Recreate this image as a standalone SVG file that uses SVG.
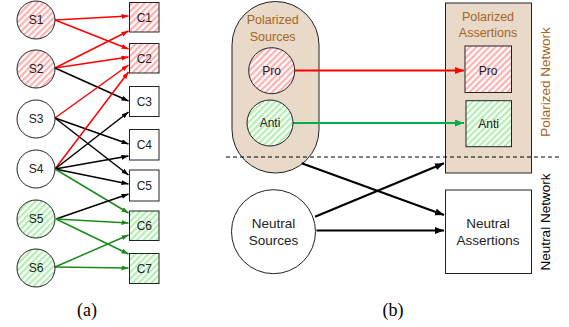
<svg xmlns="http://www.w3.org/2000/svg" width="569" height="327" viewBox="0 0 569 327">
<style>
text{font-family:"Liberation Sans",Arial,sans-serif;fill:#222;text-anchor:middle}
.lab{font-size:12px}
.big{font-size:13.5px}
.brown{fill:#a4651f;font-size:12.5px}
.cap{font-family:"Liberation Serif","Times New Roman",serif;font-size:18px;fill:#000}
.node{stroke:#222;stroke-width:1}
.ea{fill:none;stroke-width:1.5}
.eb{fill:none;stroke-width:2.2}
.r{stroke:#ff0000}
.k{stroke:#000}
.g{stroke:#1c8a1c}
.gb{stroke:#00b050}
</style>
<defs>
<pattern id="hr" patternUnits="userSpaceOnUse" width="4.5" height="4.5" patternTransform="rotate(45)">
<rect width="4.5" height="4.5" fill="#fff"/><rect width="2.2" height="4.5" fill="#ffb0b0"/>
</pattern>
<pattern id="hg" patternUnits="userSpaceOnUse" width="4.5" height="4.5" patternTransform="rotate(45)">
<rect width="4.5" height="4.5" fill="#fff"/><rect width="2.2" height="4.5" fill="#b2efb2"/>
</pattern>
<marker id="ar" markerUnits="userSpaceOnUse" markerWidth="8" markerHeight="6" refX="7" refY="2.5" orient="auto"><path d="M0,0 L7,2.5 L0,5 z" fill="#ff0000"/></marker>
<marker id="ak" markerUnits="userSpaceOnUse" markerWidth="8" markerHeight="6" refX="7" refY="2.5" orient="auto"><path d="M0,0 L7,2.5 L0,5 z" fill="#000"/></marker>
<marker id="ag" markerUnits="userSpaceOnUse" markerWidth="8" markerHeight="6" refX="7" refY="2.5" orient="auto"><path d="M0,0 L7,2.5 L0,5 z" fill="#1c8a1c"/></marker>
<marker id="br" markerUnits="userSpaceOnUse" markerWidth="10" markerHeight="8" refX="9" refY="3.5" orient="auto"><path d="M0,0 L9,3.5 L0,7 z" fill="#ff0000"/></marker>
<marker id="bk" markerUnits="userSpaceOnUse" markerWidth="10" markerHeight="8" refX="9" refY="3.5" orient="auto"><path d="M0,0 L9,3.5 L0,7 z" fill="#000"/></marker>
<marker id="bg" markerUnits="userSpaceOnUse" markerWidth="10" markerHeight="8" refX="9" refY="3.5" orient="auto"><path d="M0,0 L9,3.5 L0,7 z" fill="#00b050"/></marker>
</defs>
<rect width="569" height="327" fill="#fff"/>

<g id="polarized-sources">
<rect class="node" x="232" y="1.5" width="87" height="171.5" rx="43.5" ry="43.5" fill="#e8d9c8"/>
<text class="brown" x="272.7" y="24">Polarized</text>
<text class="brown" x="272.7" y="41">Sources</text>
</g>
<g id="polarized-assertions">
<rect class="node" x="445.5" y="3" width="86" height="170" fill="#e8d9c8"/>
<text class="brown" x="488" y="21">Polarized</text>
<text class="brown" x="488" y="37">Assertions</text>
</g>

<g id="connectors">
<line class="ea r" x1="55" y1="20" x2="128.5" y2="16" marker-end="url(#ar)"/>
<line class="ea r" x1="55" y1="20" x2="128.5" y2="49" marker-end="url(#ar)"/>
<line class="ea r" x1="55" y1="68" x2="128.5" y2="31" marker-end="url(#ar)"/>
<line class="ea r" x1="55" y1="68" x2="128.5" y2="57" marker-end="url(#ar)"/>
<line class="ea k" x1="55" y1="68" x2="128.5" y2="101" marker-end="url(#ak)"/>
<line class="ea r" x1="55" y1="118" x2="128.5" y2="65" marker-end="url(#ar)"/>
<line class="ea k" x1="55" y1="118" x2="128.5" y2="144" marker-end="url(#ak)"/>
<line class="ea k" x1="55" y1="118" x2="128.5" y2="175" marker-end="url(#ak)"/>
<line class="ea r" x1="55" y1="169" x2="128.5" y2="72" marker-end="url(#ar)"/>
<line class="ea k" x1="55" y1="169" x2="128.5" y2="112" marker-end="url(#ak)"/>
<line class="ea k" x1="55" y1="169" x2="128.5" y2="156" marker-end="url(#ak)"/>
<line class="ea k" x1="55" y1="169" x2="128.5" y2="184" marker-end="url(#ak)"/>
<line class="ea g" x1="55" y1="169" x2="128.5" y2="213" marker-end="url(#ag)"/>
<line class="ea k" x1="56" y1="219" x2="128.5" y2="194" marker-end="url(#ak)"/>
<line class="ea g" x1="56" y1="219" x2="128.5" y2="223" marker-end="url(#ag)"/>
<line class="ea g" x1="56" y1="219" x2="128.5" y2="254" marker-end="url(#ag)"/>
<line class="ea g" x1="55" y1="267" x2="128.5" y2="235" marker-end="url(#ag)"/>
<line class="ea g" x1="55" y1="267" x2="128.5" y2="268" marker-end="url(#ag)"/>
<line class="eb r" x1="295" y1="70.5" x2="464" y2="70.5" marker-end="url(#br)"/>
<line class="eb gb" x1="293" y1="123" x2="464" y2="123" marker-end="url(#bg)"/>
<line class="eb k" x1="301.7" y1="163.3" x2="444" y2="215" marker-end="url(#bk)"/>
<line class="eb k" x1="315" y1="216.7" x2="444" y2="163.3" marker-end="url(#bk)"/>
<line class="eb k" x1="316.5" y1="230.5" x2="444" y2="230.5" marker-end="url(#bk)"/>
<line x1="226" y1="157" x2="562" y2="157" stroke="#000" stroke-width="1" stroke-dasharray="4,3"/>
</g>

<g id="S1"><circle class="node" cx="36" cy="20" r="19" fill="url(#hr)"/><text class="lab" x="36" y="24.2">S1</text></g>
<g id="S2"><circle class="node" cx="36" cy="69" r="19" fill="url(#hr)"/><text class="lab" x="36" y="73.2">S2</text></g>
<g id="S3"><circle class="node" cx="36" cy="119" r="19" fill="#fff"/><text class="lab" x="36" y="123.2">S3</text></g>
<g id="S4"><circle class="node" cx="36" cy="169" r="19" fill="#fff"/><text class="lab" x="36" y="173.2">S4</text></g>
<g id="S5"><circle class="node" cx="36" cy="219" r="19" fill="url(#hg)"/><text class="lab" x="36" y="223.2">S5</text></g>
<g id="S6"><circle class="node" cx="36" cy="268" r="19" fill="url(#hg)"/><text class="lab" x="36" y="272.2">S6</text></g>

<g id="C1"><rect class="node" x="129.5" y="2.5" width="29.5" height="29.5" fill="url(#hr)"/><text class="lab" x="144.3" y="21.5">C1</text></g>
<g id="C2"><rect class="node" x="129.5" y="43.5" width="29.5" height="29.5" fill="url(#hr)"/><text class="lab" x="144.3" y="62.5">C2</text></g>
<g id="C3"><rect class="node" x="129.5" y="86.5" width="29.5" height="30" fill="#fff"/><text class="lab" x="144.3" y="105.7">C3</text></g>
<g id="C4"><rect class="node" x="129.5" y="129.5" width="29.5" height="30.5" fill="#fff"/><text class="lab" x="144.3" y="148.9">C4</text></g>
<g id="C5"><rect class="node" x="129.5" y="170" width="29.5" height="31" fill="#fff"/><text class="lab" x="144.3" y="189.7">C5</text></g>
<g id="C6"><rect class="node" x="129.5" y="211" width="29.5" height="29.5" fill="url(#hg)"/><text class="lab" x="144.3" y="230">C6</text></g>
<g id="C7"><rect class="node" x="129.5" y="253.5" width="29.5" height="30" fill="url(#hg)"/><text class="lab" x="144.3" y="272.7">C7</text></g>

<g id="pro-source"><circle class="node" cx="271.7" cy="70.7" r="23" fill="url(#hr)"/><text class="lab" x="271.7" y="74.9">Pro</text></g>
<g id="anti-source"><circle class="node" cx="270" cy="123" r="23" fill="url(#hg)"/><text class="lab" x="270" y="127.2">Anti</text></g>
<g id="pro-assertion"><rect class="node" x="465" y="46" width="46.5" height="46.5" fill="url(#hr)"/><text class="lab" x="488.2" y="74.5">Pro</text></g>
<g id="anti-assertion"><rect class="node" x="466" y="100.7" width="45.5" height="46" fill="url(#hg)"/><text class="lab" x="488.7" y="128">Anti</text></g>
<g id="neutral-sources"><circle class="node" cx="273.5" cy="231.7" r="42" fill="#fff"/><text class="big" x="273.5" y="228">Neutral</text><text class="big" x="273.5" y="245">Sources</text></g>
<g id="neutral-assertions"><rect class="node" x="445.5" y="190" width="86" height="83.5" fill="#fff"/><text class="big" x="488" y="228">Neutral</text><text class="big" x="488" y="245">Assertions</text></g>

<text class="brown" style="font-size:13.5px" transform="translate(549.5,82) rotate(-90)">Polarized Network</text>
<text class="big" style="font-size:13.5px;fill:#000" transform="translate(549.5,222) rotate(-90)">Neutral Network</text>

<text class="cap" x="87" y="316">(a)</text>
<text class="cap" x="393" y="316">(b)</text>
</svg>
